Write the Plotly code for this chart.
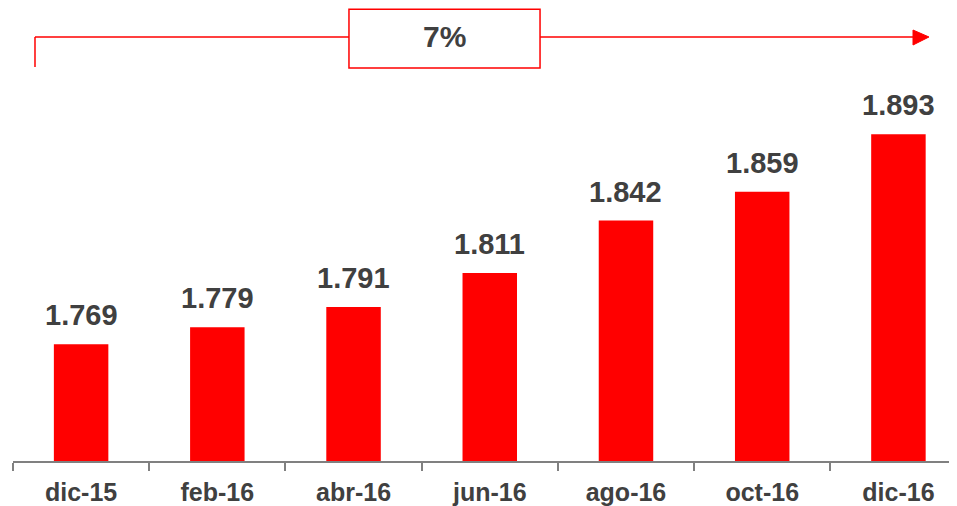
import plotly.graph_objects as go

months = ["dic-15", "feb-16", "abr-16", "jun-16", "ago-16", "oct-16", "dic-16"]
values = [1.769, 1.779, 1.791, 1.811, 1.842, 1.859, 1.893]
value_labels = ["1.769", "1.779", "1.791", "1.811", "1.842", "1.859", "1.893"]
growth_label = "7%"

red = "#FF0000"
dark = "#404040"
font_family = "Liberation Sans, Arial, sans-serif"

fig = go.Figure()
fig.add_trace(go.Bar(
    x=months, y=values, width=0.4,
    marker=dict(color=red, line=dict(width=0)),
    hoverinfo="skip",
))

# value labels above bars
for m, v, t in zip(months, values, value_labels):
    fig.add_annotation(x=m, y=v, text=t, showarrow=False, yanchor="bottom",
                       yshift=11, font=dict(family=font_family, size=29, color=dark, weight="bold"))

# bracket with arrow and growth box (paper coords)
line_y = 0.936
fig.add_shape(type="line", xref="paper", yref="paper", x0=0.0233, x1=0.0233, y0=0.8698, y1=line_y,
              line=dict(color=red, width=1.5))
fig.add_shape(type="line", xref="paper", yref="paper", x0=0.0233, x1=0.956, y0=line_y, y1=line_y,
              line=dict(color=red, width=1.5))
fig.add_shape(type="path", xref="paper", yref="paper",
              path="M 0.9534 0.9514 L 0.9703 0.936 L 0.9534 0.9183 Z",
              fillcolor=red, line=dict(color=red, width=1))
fig.add_shape(type="rect", xref="paper", yref="paper", x0=0.3559, x1=0.5583, y0=0.8675, y1=0.9975,
              fillcolor="white", line=dict(color=red, width=1.5))
fig.add_annotation(xref="paper", yref="paper", x=0.4571, y=line_y, text=growth_label, showarrow=False,
                   xanchor="center", yanchor="middle",
                   font=dict(family=font_family, size=30, color=dark, weight="bold"))

fig.update_layout(
    width=957, height=506,
    margin=dict(l=5, r=8, t=0, b=53),
    plot_bgcolor="white", paper_bgcolor="white",
    showlegend=False,
    xaxis=dict(
        range=[-0.5, 6.43], showline=True, linecolor="#808080", linewidth=1.5,
        ticks="outside", tickson="boundaries", ticklen=8, tickcolor="#808080", tickwidth=1.5,
        ticklabelstandoff=8,
        tickfont=dict(family=font_family, size=25, color=dark, weight="bold"),
        showgrid=False, fixedrange=True,
    ),
    yaxis=dict(range=[1.70, 1.9676], visible=False, showgrid=False, fixedrange=True),
)

fig.write_html("out.html")
